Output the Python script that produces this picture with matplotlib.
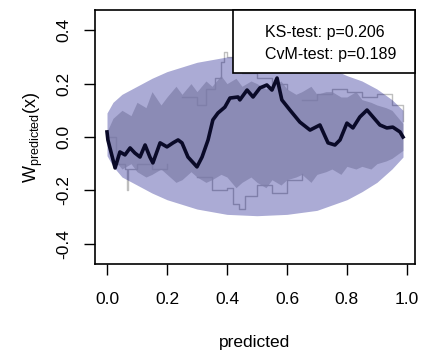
import matplotlib
matplotlib.use("Agg")
import matplotlib.pyplot as plt
from matplotlib.patches import Rectangle

plt.rcParams['font.family'] = ['Liberation Sans', 'DejaVu Sans']
plt.rcParams['mathtext.default'] = 'regular'

# observed process (black line)
obs_x = [0.000, 0.003, 0.027, 0.043, 0.060, 0.077, 0.093, 0.110, 0.127, 0.143, 0.153,
         0.177, 0.200, 0.220, 0.237, 0.250, 0.270, 0.300, 0.317, 0.337, 0.353, 0.370,
         0.393, 0.410, 0.437, 0.443, 0.467, 0.487, 0.510, 0.533, 0.550, 0.567, 0.583,
         0.610, 0.643, 0.677, 0.710, 0.737, 0.760, 0.777, 0.800, 0.820, 0.843, 0.867,
         0.887, 0.910, 0.933, 0.953, 0.977, 0.987]
obs_y = [0.019, -0.011, -0.116, -0.056, -0.067, -0.041, -0.060, -0.075, -0.030, -0.075, -0.097,
         -0.022, -0.037, -0.022, -0.011, -0.022, -0.075, -0.112, -0.075, -0.011, 0.064, 0.090,
         0.112, 0.146, 0.150, 0.139, 0.176, 0.150, 0.184, 0.195, 0.176, 0.221, 0.139,
         0.101, 0.056, 0.026, 0.045, -0.022, -0.030, -0.011, 0.052, 0.034, 0.075, 0.101,
         0.075, 0.045, 0.034, 0.037, 0.019, 0.000]

# envelope (shaded band)
env_x = [0.0, 0.02, 0.05, 0.10, 0.15, 0.20, 0.30, 0.40, 0.50, 0.60, 0.70, 0.80, 0.85, 0.90, 0.95, 0.987]
env_hi = [0.09, 0.13, 0.16, 0.19, 0.22, 0.245, 0.28, 0.30, 0.305, 0.30, 0.28, 0.23, 0.21, 0.18, 0.14, 0.10]
env_lo = [-0.07, -0.11, -0.15, -0.18, -0.21, -0.235, -0.27, -0.29, -0.295, -0.29, -0.275, -0.235, -0.205, -0.17, -0.12, -0.075]

# dense region of simulated paths
sim_x = [0.0, 0.02, 0.05, 0.08, 0.10, 0.13, 0.15, 0.18, 0.20, 0.23, 0.25, 0.28, 0.30, 0.33,
         0.35, 0.38, 0.40, 0.43, 0.45, 0.48, 0.50, 0.53, 0.55, 0.58, 0.60, 0.63, 0.65, 0.68,
         0.70, 0.73, 0.75, 0.78, 0.80, 0.83, 0.85, 0.88, 0.90, 0.93, 0.95, 0.987]
sim_hi = [0.02, 0.07, 0.10, 0.08, 0.13, 0.11, 0.17, 0.12, 0.15, 0.19, 0.16, 0.20, 0.17, 0.21,
          0.19, 0.23, 0.20, 0.22, 0.19, 0.21, 0.20, 0.18, 0.19, 0.21, 0.18, 0.16, 0.17, 0.19,
          0.16, 0.17, 0.17, 0.15, 0.15, 0.17, 0.14, 0.13, 0.12, 0.11, 0.10, 0.05]
sim_lo = [-0.02, -0.08, -0.12, -0.10, -0.13, -0.15, -0.14, -0.12, -0.14, -0.17, -0.16, -0.13,
          -0.15, -0.17, -0.16, -0.14, -0.15, -0.19, -0.17, -0.15, -0.17, -0.19, -0.16, -0.18,
          -0.16, -0.15, -0.14, -0.17, -0.14, -0.13, -0.12, -0.14, -0.11, -0.12, -0.11, -0.12,
          -0.10, -0.09, -0.08, -0.05]

# a few individual simulated paths
g1_x = [0.25, 0.30, 0.33, 0.36, 0.38, 0.39, 0.40, 0.42, 0.45, 0.50, 0.55, 0.60]
g1_y = [0.15, 0.12, 0.18, 0.22, 0.28, 0.32, 0.30, 0.26, 0.24, 0.22, 0.20, 0.18]
g2_x = [0.0, 0.03, 0.06, 0.066, 0.07, 0.10, 0.15, 0.20]
g2_y = [0.0, -0.10, -0.12, -0.20, -0.12, -0.10, -0.12, -0.10]
g3_x = [0.30, 0.35, 0.40, 0.42, 0.44, 0.46, 0.50, 0.55, 0.60, 0.65]
g3_y = [-0.15, -0.20, -0.19, -0.25, -0.27, -0.22, -0.18, -0.21, -0.16, -0.14]
g4_x = [0.65, 0.70, 0.75, 0.80, 0.85, 0.90, 0.95, 0.987]
g4_y = [0.14, 0.16, 0.18, 0.17, 0.15, 0.16, 0.12, 0.06]

xticks = [0.0, 0.2, 0.4, 0.6, 0.8, 1.0]
yticks = [-0.4, -0.2, 0.0, 0.2, 0.4]
ks_text = "KS-test: p=0.206"
cvm_text = "CvM-test: p=0.189"

fig = plt.figure(figsize=(4.21, 3.61), dpi=100)
ax = fig.add_axes([95/421, 1-264/361, 320/421, 254/361])

gray = '#D0D0D0'
ax.fill_between(sim_x, sim_lo, sim_hi, color=gray, lw=0, zorder=1)
for gx, gy in [(g1_x, g1_y), (g2_x, g2_y), (g3_x, g3_y), (g4_x, g4_y)]:
    ax.plot(gx, gy, color='#BEBEBE', lw=1.0, drawstyle='steps-post', zorder=1)
ax.fill_between(env_x, env_lo, env_hi, color='navy', alpha=0.33, lw=0, zorder=2)
ax.plot(obs_x, obs_y, color='#0A0A28', lw=2.6, zorder=3)

ax.set_xlim(-0.04, 1.027)
ax.set_ylim(-0.476, 0.476)
ax.set_xticks(xticks)
ax.set_xticklabels([f"{v:.1f}" for v in xticks])
ax.set_yticks(yticks)
ax.set_yticklabels([f"{v:.1f}" for v in yticks], rotation=90, va='center')
ax.tick_params(axis='both', direction='out', length=8, width=1, labelsize=12.5, colors='black')
ax.tick_params(axis='x', pad=12)
ax.tick_params(axis='y', pad=9)
for s in ax.spines.values():
    s.set_linewidth(1.2)

ax.set_xlabel("predicted", fontsize=12.5, labelpad=20)
ax.set_ylabel(r"$W_{predicted}(x)$", fontsize=13, labelpad=8)

# legend box
ax.add_patch(Rectangle((0.431, 0.752), 0.569, 0.248, transform=ax.transAxes,
                       facecolor='white', edgecolor='black', lw=1.2, zorder=5, clip_on=False))
ax.text(0.531, 0.913, ks_text, transform=ax.transAxes, fontsize=11.5,
        ha='left', va='center', zorder=6)
ax.text(0.531, 0.823, cvm_text, transform=ax.transAxes, fontsize=11.5,
        ha='left', va='center', zorder=6)

fig.savefig("out.png", dpi=100)
